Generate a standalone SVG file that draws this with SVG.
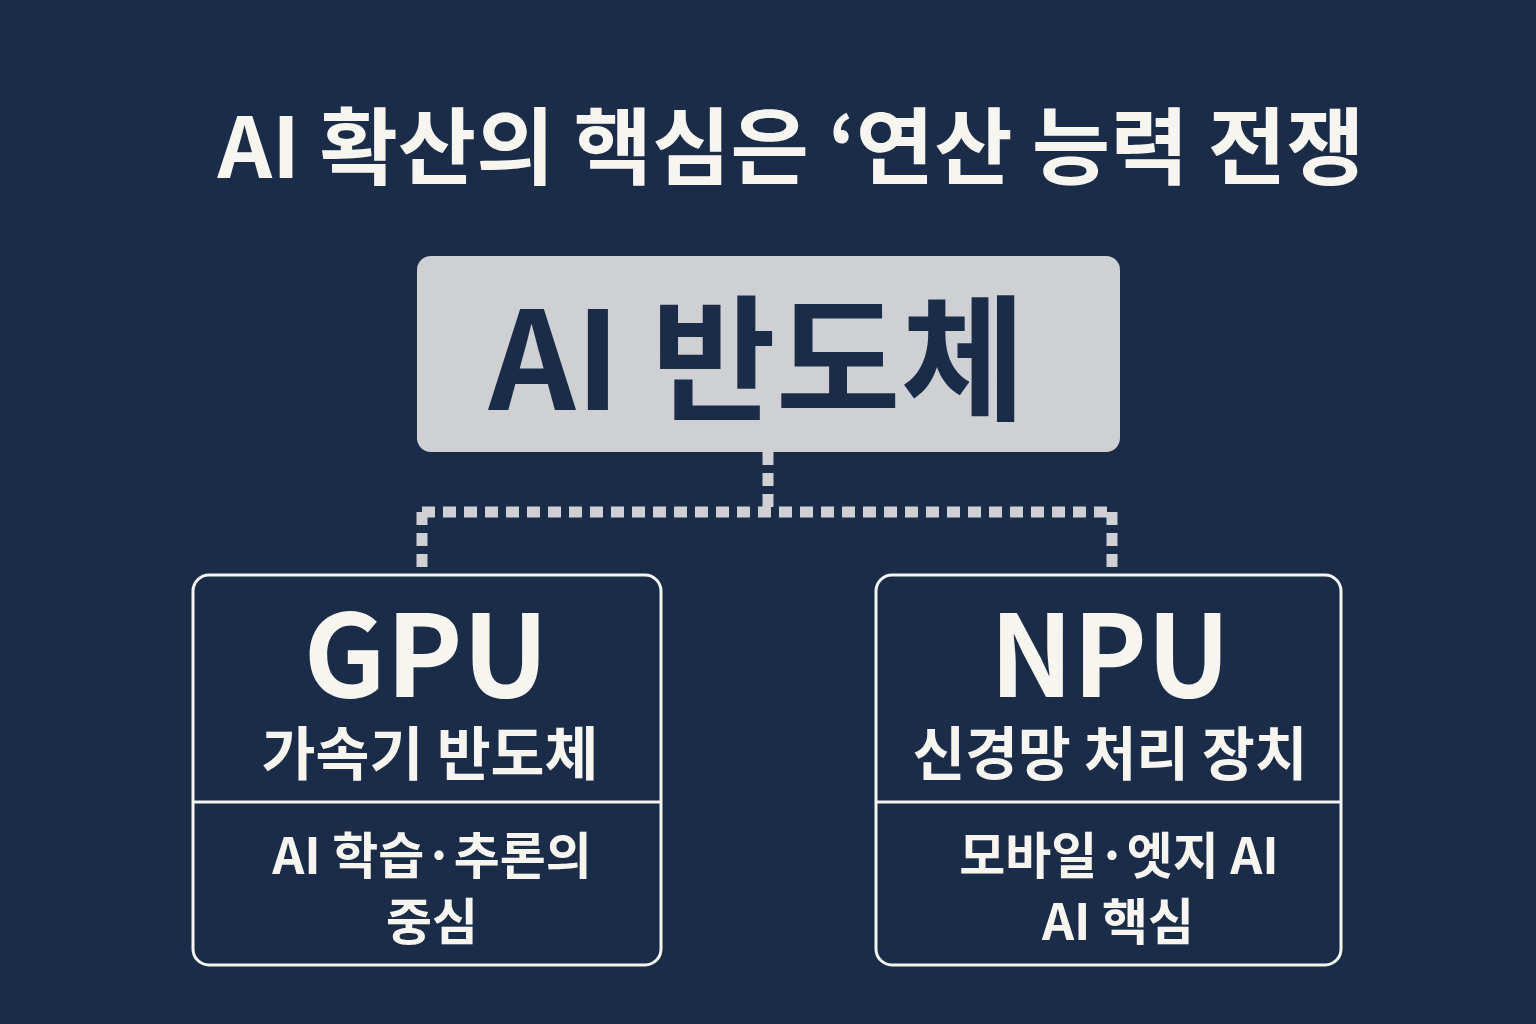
<svg xmlns="http://www.w3.org/2000/svg" width="1536" height="1024" viewBox="0 0 1536 1024">
<style>
text{font-family:"Noto Sans CJK KR","Noto Sans",sans-serif;font-weight:700;text-anchor:middle}
.w{fill:#f7f5f0}
.card{fill:#1b2c48;stroke:#f4f4f2;stroke-width:3}
.div{stroke:#f4f4f2;stroke-width:3}
.dash{fill:none;stroke:#cfd0d4;stroke-width:11;stroke-dasharray:13 8}
</style>
<rect width="1536" height="1024" fill="#1b2c48"/>
<text class="w" x="791" y="178" font-size="84" textLength="1147" lengthAdjust="spacingAndGlyphs">AI 확산의 핵심은 ‘연산 능력 전쟁</text>
<g id="connectors">
<path class="dash" d="M768 452 V512"/>
<path class="dash" d="M422 512 H1113"/>
<path class="dash" d="M422 512 V574"/>
<path class="dash" d="M1112 512 V574"/>
</g>
<g id="ai">
<rect x="417" y="256" width="703" height="196" rx="14" fill="#cfd0d4"/>
<text x="757" y="410" font-size="136" fill="#1b2c48" textLength="537" lengthAdjust="spacingAndGlyphs">AI 반도체</text>
</g>
<g id="gpu">
<rect class="card" x="193" y="575" width="468" height="390" rx="16"/>
<line class="div" x1="193" y1="802" x2="661" y2="802"/>
<text class="w" x="426" y="697" font-size="114" textLength="245" lengthAdjust="spacingAndGlyphs">GPU</text>
<text class="w" x="430" y="775" font-size="58" textLength="337" lengthAdjust="spacingAndGlyphs">가속기 반도체</text>
<text class="w" x="432" y="874" font-size="50">AI 학습·추론의</text>
<text class="w" x="432" y="940" font-size="50">중심</text>
</g>
<g id="npu">
<rect class="card" x="876" y="575" width="465" height="390" rx="16"/>
<line class="div" x1="876" y1="802" x2="1341" y2="802"/>
<text class="w" x="1110" y="697" font-size="114" textLength="240" lengthAdjust="spacingAndGlyphs">NPU</text>
<text class="w" x="1110" y="775" font-size="58" textLength="395" lengthAdjust="spacingAndGlyphs">신경망 처리 장치</text>
<text class="w" x="1119" y="874" font-size="50">모바일·엣지 AI</text>
<text class="w" x="1118" y="940" font-size="50">AI 핵심</text>
</g>
</svg>
